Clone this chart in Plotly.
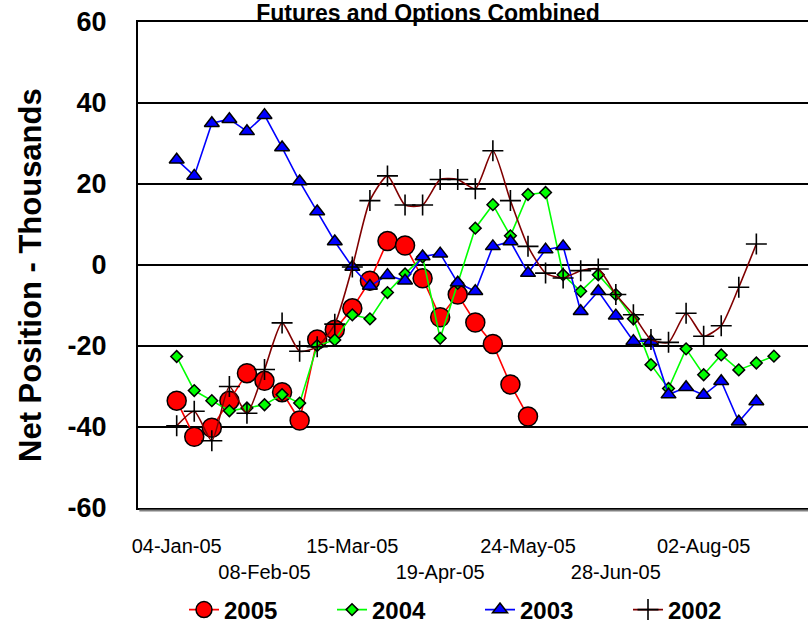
import pandas as pd
import plotly.graph_objects as go

weeks = [d.strftime("%Y-%m-%d") for d in pd.date_range("2005-01-04", periods=35, freq="7D")]

y2005 = [-33.5, -42.4, -40.2, -33.5, -26.7, -28.6, -31.4, -38.4, -18.4, -16.0, -10.7,
         -3.9, 5.9, 4.8, -3.3, -12.9, -7.3, -14.2, -19.5, -29.5, -37.4]
y2004 = [-22.6, -31.0, -33.5, -36.0, -35.3, -34.5, -32.0, -34.1, -19.9, -18.5, -12.3,
         -13.3, -6.8, -2.2, 2.0, -18.1, -4.5, 9.1, 14.9, 7.2, 17.4, 17.9, -2.4, -6.5,
         -2.4, -7.3, -13.3, -24.6, -30.5, -20.7, -27.1, -22.2, -25.9, -24.2, -22.5]
y2003 = [26.0, 22.0, 35.0, 36.0, 33.0, 37.0, 29.0, 20.6, 13.2, 5.8, -0.5, -5.2, -2.5,
         -3.9, 2.1, 2.8, -4.4, -6.5, 4.6, 5.8, -2.0, 3.8, 4.6, -11.4, -6.5, -12.5,
         -18.8, -18.8, -32.0, -30.2, -32.1, -28.7, -38.7, -33.7]
y2002 = [-39.7, -36.1, -43.4, -30.0, -36.6, -25.8, -14.3, -21.3, -20.2, -14.6, -0.5,
         15.9, 22.0, 14.8, 14.8, 21.1, 21.1, 18.8, 28.2, 15.9, 4.6, -2.0, -3.2, -1.4,
         -1.0, -7.3, -12.3, -18.4, -19.1, -11.9, -17.6, -15.0, -5.5, 5.2]

tick_dates = ["2005-01-04", "2005-02-08", "2005-03-15", "2005-04-19",
              "2005-05-24", "2005-06-28", "2005-08-02"]
tick_labels = ["04-Jan-05", "<br>08-Feb-05", "15-Mar-05", "<br>19-Apr-05",
               "24-May-05", "<br>28-Jun-05", "02-Aug-05"]
y_ticks = [-60, -40, -20, 0, 20, 40, 60]
y_tick_labels = ["-60", "-40", "-20", "0", "20", "40", "60"]

FONT = "Arial, 'Liberation Sans', sans-serif"

fig = go.Figure()
fig.add_trace(go.Scatter(
    x=weeks[:len(y2005)], y=y2005, name="2005", mode="lines+markers",
    line=dict(color="#FF0000", width=1.6),
    marker=dict(symbol="circle", size=19, color="#FF0000",
                line=dict(color="#000000", width=1.5))))
fig.add_trace(go.Scatter(
    x=weeks[:len(y2004)], y=y2004, name="2004", mode="lines+markers",
    line=dict(color="#00FF00", width=1.6),
    marker=dict(symbol="diamond", size=9, color="#00FF00",
                line=dict(color="#000000", width=1.5))))
fig.add_trace(go.Scatter(
    x=weeks[:len(y2003)], y=y2003, name="2003", mode="lines+markers",
    line=dict(color="#0000FF", width=1.6),
    marker=dict(symbol="triangle-up", size=13, color="#0000FF",
                line=dict(color="#000000", width=1.5))))
fig.add_trace(go.Scatter(
    x=weeks[:len(y2002)], y=y2002, name="2002", mode="lines+markers",
    line=dict(color="#800000", width=1.6, shape="spline", smoothing=0.6),
    marker=dict(symbol="cross-thin", size=15, color="#000000",
                line=dict(color="#000000", width=1.6))))

fig.update_layout(
    width=808, height=624,
    margin=dict(l=138, r=0, t=22, b=116, autoexpand=False),
    paper_bgcolor="white", plot_bgcolor="white",
    font=dict(family=FONT, color="#000000"),
    title=dict(text="Futures and Options Combined",
               font=dict(size=23, family=FONT, color="#000000", weight="bold"),
               xref="container", x=428 / 808, xanchor="center",
               yref="container", y=1 - 13 / 624, yanchor="middle"),
    showlegend=True,
    legend=dict(orientation="h", xref="container", x=184 / 808, xanchor="left",
                yref="paper", y=-102 / 486, yanchor="middle",
                font=dict(size=24, family=FONT, color="#000000", weight="bold"),
                entrywidth=103, bgcolor="rgba(0,0,0,0)"),
    xaxis=dict(type="date", range=["2004-12-19 14:00", "2005-09-12 14:00"],
               automargin=False,
               tickmode="array", tickvals=tick_dates, ticktext=tick_labels,
               tickangle=0, ticks="", ticklabelstandoff=19,
               tickfont=dict(size=20, family=FONT, color="#000000"),
               showgrid=False, zeroline=False,
               showline=True, linecolor="#000000", linewidth=2, mirror=True),
    yaxis=dict(range=[-60, 60], tickmode="array", tickvals=y_ticks,
               ticktext=y_tick_labels, automargin=False,
               ticks="", ticklabelstandoff=24,
               tickfont=dict(size=27, family=FONT, color="#000000", weight="bold"),
               showgrid=True, gridcolor="#000000", gridwidth=2, zeroline=False,
               showline=True, linecolor="#000000", linewidth=2),
    annotations=[dict(text="Net Position - Thousands", textangle=-90,
                      xref="paper", x=(30 - 138) / 670, xanchor="center",
                      yref="paper", y=(508 - 275) / 486, yanchor="middle",
                      showarrow=False,
                      font=dict(size=31, family=FONT, color="#000000", weight="bold"))],
    shapes=[dict(type="line", xref="paper", x0=0.002, x1=1,
                 yref="paper", ysizemode="pixel", yanchor=0, y0=-2.5, y1=-2.5,
                 line=dict(color="#808080", width=2))],
)

fig.write_html("out.html", config={"displayModeBar": False},
               post_script="document.body.style.margin='0';document.body.style.overflow='hidden';")
